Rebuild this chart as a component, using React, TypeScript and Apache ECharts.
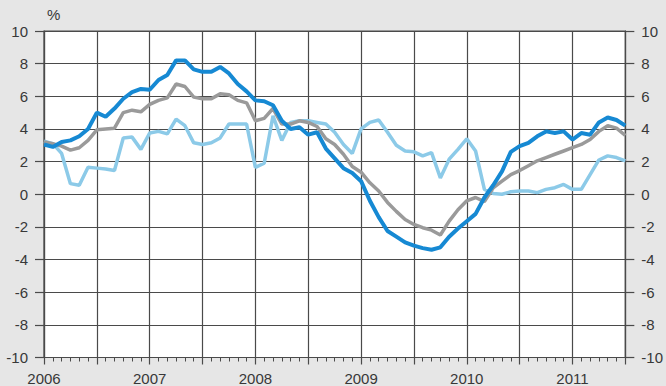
import React, { useEffect, useRef } from "react";
import * as echarts from "echarts";

// Monthly values, Jan 2006 (index 0) .. Jul 2011 (index 66)
const yearLabels = ["2006", "2007", "2008", "2009", "2010", "2011"];

const darkBlue = [
  3.05, 2.9, 3.2, 3.3, 3.55, 4.0, 5.0, 4.75, 5.25, 5.85, 6.25, 6.45,
  6.4, 7.0, 7.3, 8.2, 8.2, 7.65, 7.5, 7.5, 7.8, 7.4, 6.75, 6.3,
  5.75, 5.7, 5.45, 4.5, 4.0, 4.1, 3.65, 3.8, 2.8, 2.2, 1.6, 1.3,
  0.8, -0.4, -1.4, -2.25, -2.6, -2.95, -3.15, -3.3, -3.4, -3.25, -2.6, -2.1,
  -1.65, -1.2, -0.2, 0.55, 1.4, 2.6, 2.95, 3.15, 3.55, 3.85, 3.75, 3.85,
  3.35, 3.75, 3.65, 4.4, 4.7, 4.55, 4.2,
];

const grey = [
  3.2, 3.1, 2.95, 2.7, 2.85, 3.3, 3.95, 4.0, 4.05, 5.0, 5.15, 5.05,
  5.5, 5.75, 5.9, 6.75, 6.6, 5.95, 5.85, 5.85, 6.15, 6.1, 5.75, 5.6,
  4.5, 4.65, 5.25, 4.3, 4.3, 4.5, 4.4, 4.15, 3.4, 3.05, 2.45, 1.7,
  1.35, 0.7, 0.2, -0.5, -1.05, -1.55, -1.85, -2.05, -2.2, -2.5, -1.65, -0.95,
  -0.4, -0.2, -0.45, 0.4, 0.8, 1.2, 1.45, 1.75, 2.05, 2.25, 2.45, 2.65,
  2.85, 3.05, 3.35, 3.85, 4.2, 4.05, 3.6,
];

const lightBlue = [
  3.25, 3.1, 2.5, 0.65, 0.55, 1.65, 1.6, 1.55, 1.45, 3.45, 3.5, 2.75,
  3.75, 3.85, 3.7, 4.6, 4.2, 3.15, 3.05, 3.15, 3.45, 4.3, 4.3, 4.3,
  1.65, 1.9, 4.8, 3.3, 4.4, 4.5, 4.5, 4.4, 4.3, 3.8, 3.05, 2.5,
  4.0, 4.4, 4.55, 3.8, 3.0, 2.65, 2.6, 2.35, 2.55, 1.0, 2.15, 2.75,
  3.4, 2.65, 0.3, 0.05, 0.0, 0.15, 0.2, 0.2, 0.1, 0.3, 0.4, 0.6,
  0.3, 0.3, 1.2, 2.1, 2.35, 2.25, 2.05,
];

const FONT = "'Liberation Sans', Arial, sans-serif";
const TXT = "#383838";
const LINE = "#4a4a4a";

export default function App() {
  const ref = useRef<HTMLDivElement>(null);

  useEffect(() => {
    if (!ref.current) return;
    const chart = echarts.init(ref.current, undefined, { renderer: "svg" });
    const yAxisBase = {
      type: "value" as const,
      min: -10,
      max: 10,
      interval: 2,
      axisLine: { show: true, lineStyle: { color: LINE, width: 1.2 } },
      axisTick: { show: true, length: 9, lineStyle: { color: LINE, width: 1.2 } },
      axisLabel: { color: TXT, fontSize: 15, fontFamily: FONT, margin: 16 },
    };
    chart.setOption({
      animation: false,
      backgroundColor: "#e6e6e6",
      grid: {
        left: 44,
        right: 39.5,
        top: 31,
        bottom: 28.5,
        show: true,
        backgroundColor: "#ffffff",
        borderColor: LINE,
        borderWidth: 1.2,
      },
      graphic: [
        {
          type: "text",
          left: 47,
          top: 7,
          style: { text: "%", fontSize: 15, fontFamily: FONT, fill: TXT },
        },
      ],
      xAxis: {
        type: "value",
        min: 0,
        max: 66,
        interval: 6,
        axisLine: { show: true, onZero: false, lineStyle: { color: LINE, width: 1.2 } },
        axisTick: { show: true, length: 7, lineStyle: { color: LINE, width: 1.2 } },
        minorTick: { show: true, splitNumber: 6, length: 4, lineStyle: { color: LINE, width: 1 } },
        splitLine: { show: true, lineStyle: { color: LINE, width: 1.2 } },
        axisLabel: {
          color: TXT,
          fontSize: 15,
          fontFamily: FONT,
          margin: 13,
          showMinLabel: true,
          showMaxLabel: true,
          formatter: (v: number) => (v % 12 === 0 ? yearLabels[v / 12] ?? "" : ""),
        },
      },
      yAxis: [
        {
          ...yAxisBase,
          position: "left",
          splitLine: { show: true, lineStyle: { color: LINE, width: 1.2 } },
        },
        {
          ...yAxisBase,
          position: "right",
          splitLine: { show: false },
        },
      ],
      series: [
        {
          type: "line",
          data: lightBlue.map((v, i) => [i, v]),
          symbol: "none",
          lineStyle: { color: "#8ccae8", width: 3.5 },
          z: 1,
        },
        {
          type: "line",
          data: grey.map((v, i) => [i, v]),
          symbol: "none",
          lineStyle: { color: "#9a9a9a", width: 3.5 },
          z: 2,
        },
        {
          type: "line",
          data: darkBlue.map((v, i) => [i, v]),
          symbol: "none",
          lineStyle: { color: "#1689d3", width: 4 },
          z: 3,
        },
      ],
    });
    return () => chart.dispose();
  }, []);

  return (
    <div
      ref={ref}
      style={{ position: "absolute", left: 0, top: 0, width: 666, height: 386 }}
    />
  );
}
